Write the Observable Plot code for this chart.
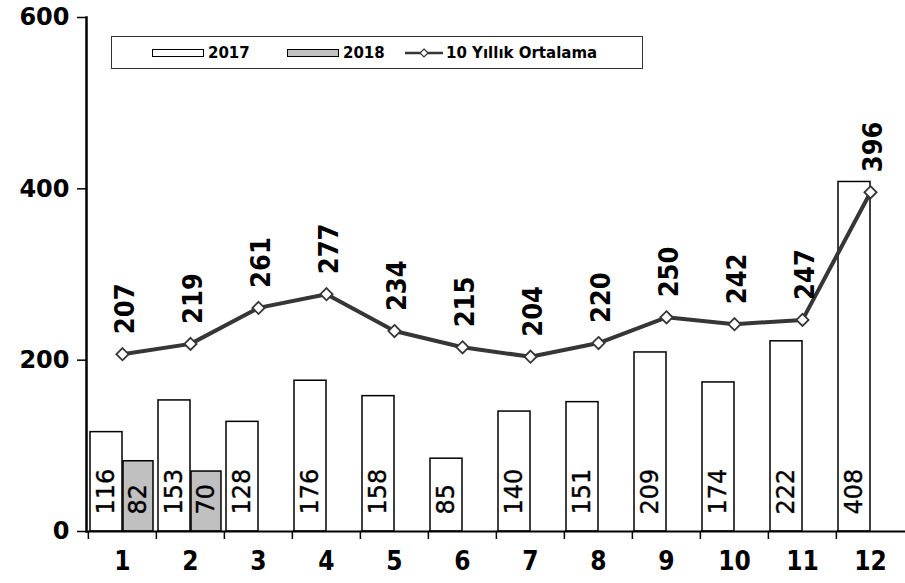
<!DOCTYPE html>
<html>
<head>
<meta charset="utf-8">
<script src="https://cdn.jsdelivr.net/npm/d3@7"></script>
<script src="https://cdn.jsdelivr.net/npm/@observablehq/plot@0.6"></script>
<style>
  body { margin: 0; background: white; }
  #wrap { position: relative; width: 905px; height: 583px; }
  #legend { position: absolute; left: 111px; top: 36px; width: 532px; height: 33px;
    border: 1px solid #333; background: white; box-sizing: border-box;
    font-family: "DejaVu Sans"; font-weight: bold; font-size: 15px; color: #000; }
  #legend .it { position: absolute; top: 0; height: 31px; display: flex; align-items: center; }
  #legend .sw { width: 50px; height: 6px; border: 1.5px solid #000; margin-right: 4px; }
</style>
</head>
<body>
<div id="wrap"></div>
<script>
const months = ["1","2","3","4","5","6","7","8","9","10","11","12"];
const values2017 = [116,153,128,176,158,85,140,151,209,174,222,408];
const months2018 = ["1","2"];
const values2018 = [82,70];
const average10 = [207,219,261,277,234,215,204,220,250,242,247,396];
const yTicks = [0,200,400,600];
const seriesNames = ["2017","2018","10 Yıllık Ortalama"];

const d2017 = months.map((m,i)=>({month:m, value:values2017[i]}));
const d2018 = months2018.map((m,i)=>({month:m, value:values2018[i]}));
const dAvg = months.map((m,i)=>({month:m, value:average10[i]}));

const chart = Plot.plot({
  width: 905, height: 583,
  marginTop: 17, marginBottom: 52, marginLeft: 86, marginRight: 0,
  style: {fontFamily: "DejaVu Sans", background: "white", color: "#000", overflow: "visible"},
  x: {type: "band", domain: months, padding: 0},
  y: {domain: [0,600]},
  marks: [
    Plot.barY(d2017, {x:"month", y:"value", fill:"white", stroke:"black", strokeWidth:1.5, insetLeft:2, insetRight:34}),
    Plot.barY(d2018, {x:"month", y:"value", fill:"#c0c0c0", stroke:"black", strokeWidth:1.5, insetLeft:35, insetRight:3}),
    Plot.text(d2017, {x:"month", y:0, text:d=>String(d.value), rotate:-90, textAnchor:"start", dx:-16, dy:-17, fontSize:24, fill:"black", stroke:"black", strokeWidth:0.4}),
    Plot.text(d2018, {x:"month", y:0, text:d=>String(d.value), rotate:-90, textAnchor:"start", dx:16, dy:-17, fontSize:24, fill:"black", stroke:"black", strokeWidth:0.4}),
    Plot.line(dAvg, {x:"month", y:"value", stroke:"#363636", strokeWidth:4}),
    Plot.dot(dAvg, {x:"month", y:"value", symbol:"diamond2", r:5.5, fill:"white", stroke:"#363636", strokeWidth:1.8}),
    Plot.text(dAvg, {x:"month", y:"value", text:d=>String(d.value), rotate:-90, textAnchor:"start", dx:3, dy:-20, fontSize:27, fontWeight:"bold", fontFamily:"DejaVu Sans Condensed", fill:"black"}),
    Plot.axisY({ticks: yTicks, tickSize: 9, tickPadding: 8, fontSize: 24, fontWeight: "bold", stroke: "black", strokeWidth: 1.5, label: null}),
    Plot.axisX({tickSize: 8, text: null, dx: -34.125, stroke: "black", strokeWidth: 1.5, label: null}),
    Plot.axisX({tickSize: 0, tickPadding: 20, fontSize: 26, fontWeight: "bold", fontFamily: "DejaVu Sans Condensed", label: null}),
    Plot.ruleY([0], {stroke:"black", strokeWidth:2}),
    Plot.frame({anchor:"left", stroke:"black", strokeWidth:2.5})
  ]
});
const wrap = document.getElementById("wrap");
wrap.appendChild(chart);

const legend = document.createElement("div");
legend.id = "legend";
legend.innerHTML = `
  <div class="it" style="left:40px"><div class="sw" style="background:white"></div>${seriesNames[0]}</div>
  <div class="it" style="left:175px"><div class="sw" style="background:#c0c0c0"></div>${seriesNames[1]}</div>
  <div class="it" style="left:293px"><svg width="38" height="12" style="margin-right:3px"><line x1="0" y1="6" x2="38" y2="6" stroke="#363636" stroke-width="2.5"/><path d="M19 2 L23 6 L19 10 L15 6 Z" fill="white" stroke="#363636" stroke-width="1.2"/></svg>${seriesNames[2]}</div>`;
wrap.appendChild(legend);
</script>
</body>
</html>
